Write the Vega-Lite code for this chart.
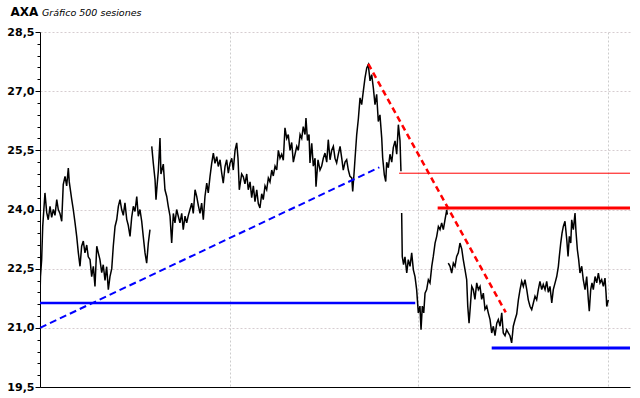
{
  "$schema": "https://vega.github.io/schema/vega-lite/v6.json",
  "width": 590,
  "height": 355,
  "autosize": {"type": "none"},
  "padding": {"left": 40, "top": 32, "right": 10, "bottom": 11},
  "background": "white",
  "title": {
    "text": "Gráfico 500 sesiones",
    "anchor": "start",
    "frame": "group",
    "font": "DejaVu Sans",
    "fontSize": 9.5,
    "fontStyle": "italic",
    "fontWeight": "normal",
    "color": "black",
    "baseline": "alphabetic",
    "offset": 0,
    "dx": 2,
    "dy": 20
  },
  "config": {
    "view": {"stroke": null},
    "axis": {
      "domainColor": "black",
      "tickColor": "black",
      "labelColor": "black",
      "titleColor": "black"
    }
  },
  "datasets": {
    "precio": [
      {"s":0,"p":21.79,"g":1},{"s":0.4,"p":22.3,"g":1},{"s":1.4,"p":22.73,"g":1},{"s":2.3,"p":23.57,"g":1},{"s":4.2,"p":24.42,"g":1},{"s":5.7,"p":23.92,"g":1},{"s":7.0,"p":23.74,"g":1},{"s":8.5,"p":24.08,"g":1},{"s":9.9,"p":23.8,"g":1},{"s":11.3,"p":24.0,"g":1},{"s":12.7,"p":23.85,"g":1},{"s":14.2,"p":24.25,"g":1},{"s":15.5,"p":24.0,"g":1},{"s":16.9,"p":23.9,"g":1},{"s":18.4,"p":23.7,"g":1},{"s":19.7,"p":24.63,"g":1},{"s":21.2,"p":24.84,"g":1},{"s":22.6,"p":24.6,"g":1},{"s":24.0,"p":25.05,"g":1},{"s":24.8,"p":24.7,"g":1},{"s":26.9,"p":24.25,"g":1},{"s":28.2,"p":24.0,"g":1},{"s":29.7,"p":23.66,"g":1},{"s":31.1,"p":23.32,"g":1},{"s":32.5,"p":22.9,"g":1},{"s":33.9,"p":22.56,"g":1},{"s":35.3,"p":23.07,"g":1},{"s":36.7,"p":23.2,"g":1},{"s":38.1,"p":22.9,"g":1},{"s":39.6,"p":23.1,"g":1},{"s":40.9,"p":22.8,"g":1},{"s":42.4,"p":22.73,"g":1},{"s":43.8,"p":22.3,"g":1},{"s":45.2,"p":22.56,"g":1},{"s":46.6,"p":22.05,"g":1},{"s":48.1,"p":23.07,"g":1},{"s":49.4,"p":22.9,"g":1},{"s":50.8,"p":22.73,"g":1},{"s":52.3,"p":22.4,"g":1},{"s":53.6,"p":22.6,"g":1},{"s":55.1,"p":22.2,"g":1},{"s":56.5,"p":22.55,"g":1},{"s":57.9,"p":21.97,"g":1},{"s":59.3,"p":22.3,"g":1},{"s":60.8,"p":22.5,"g":1},{"s":62.1,"p":23.07,"g":1},{"s":63.6,"p":23.57,"g":1},{"s":65.0,"p":23.74,"g":1},{"s":66.4,"p":24.08,"g":1},{"s":67.8,"p":24.25,"g":1},{"s":69.2,"p":24.0,"g":1},{"s":70.6,"p":23.85,"g":1},{"s":72.0,"p":24.17,"g":1},{"s":73.5,"p":23.75,"g":1},{"s":74.8,"p":23.6,"g":1},{"s":76.3,"p":23.32,"g":1},{"s":77.7,"p":23.8,"g":1},{"s":79.1,"p":24.08,"g":1},{"s":80.5,"p":23.95,"g":1},{"s":82.0,"p":24.33,"g":1},{"s":83.3,"p":23.83,"g":1},{"s":84.7,"p":24.0,"g":1},{"s":86.2,"p":23.7,"g":1},{"s":87.5,"p":23.32,"g":1},{"s":89.0,"p":22.9,"g":1},{"s":90.4,"p":22.64,"g":1},{"s":91.8,"p":23.15,"g":1},{"s":93.2,"p":23.49,"g":1},
      {"s":94.7,"p":25.6,"g":2},{"s":96.0,"p":25.18,"g":2},{"s":97.5,"p":24.75,"g":2},{"s":98.3,"p":24.25,"g":2},{"s":99.2,"p":24.6,"g":2},{"s":100.3,"p":24.99,"g":2},{"s":101.7,"p":25.81,"g":2},{"s":102.5,"p":24.9,"g":2},{"s":104.5,"p":25.15,"g":2},{"s":105.9,"p":24.5,"g":2},{"s":107.4,"p":24.33,"g":2},{"s":108.7,"p":24.08,"g":2},{"s":110.2,"p":23.83,"g":2},{"s":111.6,"p":23.15,"g":2},{"s":113.0,"p":23.9,"g":2},{"s":114.4,"p":23.66,"g":2},{"s":115.8,"p":24.0,"g":2},{"s":117.2,"p":23.83,"g":2},{"s":118.6,"p":23.66,"g":2},{"s":120.1,"p":23.9,"g":2},{"s":121.4,"p":23.49,"g":2},{"s":122.9,"p":23.83,"g":2},{"s":124.3,"p":23.66,"g":2},{"s":125.7,"p":23.85,"g":2},{"s":127.1,"p":24.0,"g":2},{"s":128.6,"p":24.16,"g":2},{"s":129.9,"p":23.9,"g":2},{"s":131.4,"p":24.5,"g":2},{"s":132.8,"p":24.33,"g":2},{"s":134.2,"p":24.1,"g":2},{"s":135.6,"p":23.9,"g":2},{"s":137.0,"p":24.16,"g":2},{"s":138.4,"p":23.74,"g":2},{"s":139.8,"p":24.33,"g":2},{"s":141.3,"p":24.67,"g":2},{"s":142.6,"p":24.42,"g":2},{"s":144.1,"p":24.84,"g":2},{"s":145.5,"p":25.17,"g":2},{"s":146.9,"p":25.43,"g":2},{"s":148.3,"p":25.17,"g":2},{"s":149.8,"p":25.34,"g":2},{"s":151.1,"p":25.09,"g":2},{"s":152.6,"p":25.26,"g":2},{"s":154.0,"p":24.92,"g":2},{"s":155.3,"p":24.67,"g":2},{"s":156.8,"p":25.09,"g":2},{"s":158.2,"p":25.26,"g":2},{"s":159.6,"p":24.92,"g":2},{"s":161.0,"p":25.17,"g":2},{"s":162.5,"p":25.3,"g":2},{"s":163.8,"p":25.0,"g":2},{"s":165.3,"p":25.5,"g":2},{"s":166.7,"p":25.69,"g":2},{"s":167.8,"p":25.3,"g":2},{"s":168.9,"p":24.5,"g":2},{"s":170.9,"p":24.9,"g":2},{"s":172.3,"p":24.83,"g":2},{"s":173.7,"p":24.65,"g":2},{"s":175.2,"p":24.9,"g":2},{"s":176.5,"p":24.5,"g":2},{"s":178.0,"p":24.7,"g":2},{"s":179.4,"p":24.3,"g":2},{"s":180.8,"p":24.6,"g":2},{"s":182.2,"p":24.2,"g":2},{"s":183.7,"p":24.5,"g":2},{"s":185.0,"p":24.15,"g":2},{"s":186.4,"p":24.04,"g":2},{"s":187.9,"p":24.4,"g":2},{"s":189.2,"p":24.25,"g":2},{"s":190.7,"p":24.6,"g":2},{"s":192.1,"p":24.5,"g":2},{"s":193.5,"p":24.8,"g":2},{"s":194.9,"p":24.7,"g":2},{"s":196.4,"p":25.0,"g":2},{"s":197.7,"p":24.85,"g":2},{"s":199.2,"p":25.1,"g":2},{"s":200.6,"p":25.0,"g":2},{"s":202.0,"p":25.5,"g":2},{"s":203.4,"p":25.3,"g":2},{"s":204.8,"p":25.4,"g":2},{"s":206.2,"p":25.25,"g":2},{"s":207.6,"p":26.07,"g":2},{"s":209.1,"p":25.8,"g":2},{"s":210.4,"p":25.9,"g":2},{"s":211.9,"p":25.5,"g":2},{"s":213.3,"p":25.7,"g":2},{"s":214.7,"p":25.2,"g":2},{"s":216.1,"p":25.4,"g":2},{"s":217.6,"p":25.6,"g":2},{"s":218.9,"p":25.5,"g":2},{"s":220.4,"p":25.9,"g":2},{"s":221.8,"p":25.8,"g":2},{"s":223.1,"p":26.1,"g":2},{"s":224.6,"p":25.9,"g":2},{"s":225.4,"p":26.32,"g":2},{"s":226.7,"p":25.75,"g":2},{"s":228.0,"p":25.9,"g":2},{"s":228.8,"p":25.18,"g":2},{"s":230.3,"p":25.68,"g":2},{"s":231.6,"p":25.1,"g":2},{"s":233.1,"p":25.3,"g":2},{"s":233.9,"p":24.58,"g":2},{"s":235.6,"p":25.26,"g":2},{"s":237.3,"p":25.0,"g":2},{"s":238.7,"p":25.1,"g":2},{"s":240.1,"p":25.3,"g":2},{"s":241.5,"p":25.43,"g":2},{"s":243.0,"p":25.2,"g":2},{"s":244.3,"p":25.77,"g":2},{"s":245.8,"p":25.26,"g":2},{"s":247.2,"p":25.5,"g":2},{"s":248.6,"p":25.6,"g":2},{"s":250.0,"p":25.3,"g":2},{"s":251.4,"p":25.18,"g":2},{"s":252.8,"p":25.4,"g":2},{"s":254.3,"p":25.6,"g":2},{"s":255.7,"p":25.3,"g":2},{"s":257.0,"p":25.0,"g":2},{"s":258.5,"p":25.2,"g":2},{"s":259.9,"p":25.26,"g":2},{"s":261.3,"p":25.0,"g":2},{"s":262.7,"p":24.84,"g":2},{"s":264.2,"p":24.8,"g":2},{"s":265.0,"p":24.46,"g":2},{"s":266.1,"p":24.9,"g":2},{"s":267.0,"p":25.3,"g":2},{"s":268.4,"p":25.9,"g":2},{"s":269.8,"p":26.3,"g":2},{"s":271.2,"p":26.83,"g":2},{"s":272.6,"p":26.66,"g":2},{"s":274.0,"p":27.0,"g":2},{"s":275.4,"p":27.33,"g":2},{"s":276.9,"p":27.59,"g":2},{"s":278.2,"p":27.67,"g":2},{"s":279.7,"p":27.26,"g":2},{"s":281.1,"p":27.42,"g":2},{"s":282.5,"p":27.08,"g":2},{"s":283.9,"p":26.66,"g":2},{"s":285.3,"p":26.92,"g":2},{"s":286.7,"p":26.23,"g":2},{"s":288.1,"p":26.4,"g":2},{"s":289.6,"p":25.81,"g":2},{"s":290.4,"p":25.31,"g":2},{"s":291.8,"p":24.88,"g":2},{"s":293.0,"p":24.71,"g":2},{"s":293.8,"p":25.2,"g":2},{"s":295.2,"p":25.06,"g":2},{"s":296.6,"p":25.4,"g":2},{"s":298.1,"p":25.2,"g":2},{"s":299.4,"p":25.57,"g":2},{"s":300.9,"p":25.74,"g":2},{"s":302.3,"p":25.4,"g":2},{"s":303.7,"p":26.15,"g":2},{"s":305.1,"p":25.74,"g":2},{"s":305.9,"p":24.97,"g":2},
      {"s":306.5,"p":23.91,"g":3},{"s":307.0,"p":22.81,"g":3},{"s":308.1,"p":22.6,"g":3},{"s":309.3,"p":22.8,"g":3},{"s":310.8,"p":22.39,"g":3},{"s":312.1,"p":22.73,"g":3},{"s":313.6,"p":22.56,"g":3},{"s":315.0,"p":22.9,"g":3},{"s":316.4,"p":22.47,"g":3},{"s":317.8,"p":22.3,"g":3},{"s":319.2,"p":21.97,"g":3},{"s":320.6,"p":21.38,"g":3},{"s":322.0,"p":21.55,"g":3},{"s":322.9,"p":20.95,"g":3},{"s":324.0,"p":21.55,"g":3},{"s":325.2,"p":21.38,"g":3},{"s":326.3,"p":21.88,"g":3},{"s":327.7,"p":21.97,"g":3},{"s":329.1,"p":22.22,"g":3},{"s":330.5,"p":22.14,"g":3},{"s":332.0,"p":22.56,"g":3},{"s":333.3,"p":22.81,"g":3},{"s":334.8,"p":23.15,"g":3},{"s":336.2,"p":23.32,"g":3},{"s":337.6,"p":23.57,"g":3},{"s":339.0,"p":23.49,"g":3},{"s":340.4,"p":23.66,"g":3},{"s":341.8,"p":23.49,"g":3},{"s":343.2,"p":23.74,"g":3},{"s":344.7,"p":23.99,"g":3},{"s":345.2,"p":23.87,"g":3},
      {"s":346.0,"p":22.64,"g":4},{"s":347.5,"p":22.56,"g":4},{"s":348.9,"p":22.39,"g":4},{"s":350.3,"p":22.64,"g":4},{"s":351.7,"p":22.56,"g":4},{"s":353.1,"p":22.81,"g":4},{"s":354.5,"p":22.9,"g":4},{"s":355.9,"p":23.15,"g":4},{"s":357.4,"p":23.0,"g":4},{"s":358.7,"p":22.73,"g":4},{"s":360.2,"p":22.47,"g":4},{"s":361.6,"p":22.22,"g":4},{"s":362.5,"p":21.55,"g":4},{"s":363.6,"p":21.12,"g":4},{"s":364.7,"p":21.55,"g":4},{"s":365.9,"p":22.05,"g":4},{"s":367.2,"p":21.97,"g":4},{"s":368.6,"p":21.72,"g":4},{"s":370.1,"p":22.14,"g":4},{"s":371.5,"p":21.97,"g":4},{"s":372.9,"p":22.05,"g":4},{"s":374.3,"p":21.72,"g":4},{"s":375.7,"p":21.88,"g":4},{"s":377.1,"p":21.47,"g":4},{"s":378.6,"p":21.55,"g":4},{"s":379.9,"p":21.38,"g":4},{"s":381.4,"p":21.21,"g":4},{"s":382.8,"p":20.87,"g":4},{"s":384.2,"p":21.04,"g":4},{"s":385.6,"p":20.8,"g":4},{"s":387.1,"p":21.12,"g":4},{"s":388.4,"p":21.21,"g":4},{"s":389.9,"p":21.04,"g":4},{"s":391.3,"p":21.38,"g":4},{"s":392.6,"p":20.87,"g":4},{"s":394.1,"p":20.8,"g":4},{"s":395.5,"p":20.95,"g":4},{"s":396.9,"p":20.87,"g":4},{"s":398.3,"p":20.8,"g":4},{"s":399.7,"p":20.62,"g":4},{"s":401.1,"p":21.04,"g":4},{"s":402.6,"p":21.21,"g":4},{"s":404.0,"p":21.35,"g":4},{"s":405.4,"p":21.71,"g":4},{"s":406.8,"p":21.97,"g":4},{"s":408.2,"p":22.18,"g":4},{"s":409.6,"p":22.05,"g":4},{"s":411.0,"p":22.22,"g":4},{"s":412.5,"p":21.97,"g":4},{"s":413.8,"p":21.71,"g":4},{"s":415.3,"p":21.54,"g":4},{"s":416.7,"p":21.46,"g":4},{"s":418.1,"p":21.63,"g":4},{"s":419.5,"p":21.8,"g":4},{"s":420.9,"p":21.71,"g":4},{"s":422.3,"p":21.97,"g":4},{"s":423.7,"p":22.18,"g":4},{"s":425.2,"p":21.97,"g":4},{"s":426.5,"p":22.1,"g":4},{"s":428.0,"p":21.97,"g":4},{"s":429.4,"p":22.18,"g":4},{"s":430.8,"p":21.9,"g":4},{"s":432.2,"p":22.05,"g":4},{"s":433.7,"p":21.63,"g":4},{"s":435.0,"p":21.97,"g":4},{"s":436.5,"p":22.14,"g":4},{"s":437.9,"p":22.3,"g":4},{"s":439.3,"p":22.56,"g":4},{"s":440.1,"p":22.81,"g":4},{"s":441.3,"p":23.15,"g":4},{"s":442.4,"p":23.4,"g":4},{"s":443.5,"p":23.57,"g":4},{"s":444.9,"p":23.7,"g":4},{"s":446.4,"p":23.24,"g":4},{"s":447.5,"p":22.81,"g":4},{"s":448.6,"p":23.32,"g":4},{"s":449.8,"p":23.15,"g":4},{"s":450.6,"p":23.74,"g":4},{"s":452.0,"p":23.49,"g":4},{"s":453.4,"p":23.91,"g":4},{"s":454.2,"p":23.45,"g":4},{"s":455.4,"p":22.98,"g":4},{"s":456.5,"p":22.73,"g":4},{"s":457.6,"p":22.39,"g":4},{"s":459.1,"p":22.56,"g":4},{"s":460.4,"p":22.22,"g":4},{"s":461.9,"p":21.97,"g":4},{"s":463.3,"p":22.3,"g":4},{"s":464.7,"p":21.71,"g":4},{"s":465.5,"p":21.42,"g":4},{"s":466.7,"p":21.97,"g":4},{"s":467.8,"p":22.14,"g":4},{"s":468.9,"p":21.97,"g":4},{"s":470.4,"p":22.3,"g":4},{"s":471.8,"p":22.14,"g":4},{"s":473.2,"p":22.39,"g":4},{"s":474.6,"p":22.14,"g":4},{"s":476.0,"p":22.22,"g":4},{"s":477.4,"p":22.05,"g":4},{"s":478.8,"p":22.26,"g":4},{"s":479.7,"p":21.88,"g":4},{"s":480.3,"p":21.54,"g":4},{"s":481.6,"p":21.71,"g":4}
    ],
    "lineas": [
      {"id":"soporte1","s1":0,"p1":21.63,"s2":318,"p2":21.63},
      {"id":"directriz1","s1":0,"p1":21.0,"s2":287.6,"p2":25.07},
      {"id":"directriz2","s1":278.2,"p1":27.69,"s2":394.7,"p2":21.39},
      {"id":"resistencia1","s1":304.3,"p1":24.92,"s2":500,"p2":24.92},
      {"id":"resistencia2","s1":337,"p1":24.04,"s2":500,"p2":24.04},
      {"id":"soporte2","s1":382.8,"p1":20.49,"s2":500,"p2":20.49}
    ]
  },
  "layer": [
    {
      "data": {"name": "precio"},
      "mark": {"type": "line", "color": "black", "strokeWidth": 1.5, "clip": true},
      "encoding": {
        "x": {
          "field": "s", "type": "quantitative",
          "scale": {"domain": [0, 500], "nice": false, "zero": false},
          "axis": {
            "values": [0, 161, 320, 481],
            "tickCount": 10,
            "labels": false, "ticks": false, "title": null,
            "domain": true, "domainColor": "black", "domainWidth": 1,
            "grid": true, "gridColor": "#cccccc", "gridDash": [2, 2], "gridWidth": 1
          }
        },
        "y": {
          "field": "p", "type": "quantitative",
          "scale": {"domain": [19.5, 28.5], "nice": false, "zero": false},
          "axis": {
            "values": [19.5,19.8,20.1,20.4,20.7,21.0,21.3,21.6,21.9,22.2,22.5,22.8,23.1,23.4,23.7,24.0,24.3,24.6,24.9,25.2,25.5,25.8,26.1,26.4,26.7,27.0,27.3,27.6,27.9,28.2,28.5],
            "tickCount": 40,
            "labelExpr": "abs(datum.value*2/3 - round(datum.value*2/3)) < 0.01 ? replace(format(datum.value, '.1f'), '.', ',') : ''",
            "labelOverlap": false,
            "labelFont": "DejaVu Sans", "labelFontSize": 11, "labelFontWeight": "bold",
            "labelPadding": 1,
            "tickSize": {"condition": {"test": "abs(datum.value*2/3 - round(datum.value*2/3)) < 0.01", "value": 5}, "value": 3},
            "grid": true,
            "gridColor": "#d6cdd0",
            "gridDash": [2, 2],
            "gridOpacity": {"condition": {"test": "abs(datum.value*2/3 - round(datum.value*2/3)) < 0.01", "value": 1}, "value": 0},
            "domainColor": "black",
            "title": "AXA",
            "titleAngle": 0,
            "titleAlign": "left",
            "titleBaseline": "alphabetic",
            "titleX": -30,
            "titleY": -17,
            "titleFont": "DejaVu Sans",
            "titleFontSize": 12,
            "titleFontWeight": "bold"
          }
        },
        "detail": {"field": "g", "type": "nominal"}
      }
    },
    {
      "data": {"name": "lineas"},
      "transform": [{"filter": "datum.id == 'soporte1'"}],
      "mark": {"type": "rule", "color": "#0000ff", "strokeWidth": 2.5},
      "encoding": {
        "x": {"field": "s1", "type": "quantitative"},
        "x2": {"field": "s2"},
        "y": {"field": "p1", "type": "quantitative"},
        "y2": {"field": "p2"}
      }
    },
    {
      "data": {"name": "lineas"},
      "transform": [{"filter": "datum.id == 'directriz1'"}],
      "mark": {"type": "rule", "color": "#0000ff", "strokeWidth": 2, "strokeDash": [7, 4]},
      "encoding": {
        "x": {"field": "s1", "type": "quantitative"},
        "x2": {"field": "s2"},
        "y": {"field": "p1", "type": "quantitative"},
        "y2": {"field": "p2"}
      }
    },
    {
      "data": {"name": "lineas"},
      "transform": [{"filter": "datum.id == 'directriz2'"}],
      "mark": {"type": "rule", "color": "#ff0000", "strokeWidth": 2.5, "strokeDash": [6, 4]},
      "encoding": {
        "x": {"field": "s1", "type": "quantitative"},
        "x2": {"field": "s2"},
        "y": {"field": "p1", "type": "quantitative"},
        "y2": {"field": "p2"}
      }
    },
    {
      "data": {"name": "lineas"},
      "transform": [{"filter": "datum.id == 'resistencia1'"}],
      "mark": {"type": "rule", "color": "#ff0000", "strokeWidth": 1},
      "encoding": {
        "x": {"field": "s1", "type": "quantitative"},
        "x2": {"field": "s2"},
        "y": {"field": "p1", "type": "quantitative"},
        "y2": {"field": "p2"}
      }
    },
    {
      "data": {"name": "lineas"},
      "transform": [{"filter": "datum.id == 'resistencia2'"}],
      "mark": {"type": "rule", "color": "#ff0000", "strokeWidth": 3},
      "encoding": {
        "x": {"field": "s1", "type": "quantitative"},
        "x2": {"field": "s2"},
        "y": {"field": "p1", "type": "quantitative"},
        "y2": {"field": "p2"}
      }
    },
    {
      "data": {"name": "lineas"},
      "transform": [{"filter": "datum.id == 'soporte2'"}],
      "mark": {"type": "rule", "color": "#0000ff", "strokeWidth": 3},
      "encoding": {
        "x": {"field": "s1", "type": "quantitative"},
        "x2": {"field": "s2"},
        "y": {"field": "p1", "type": "quantitative"},
        "y2": {"field": "p2"}
      }
    }
  ]
}
